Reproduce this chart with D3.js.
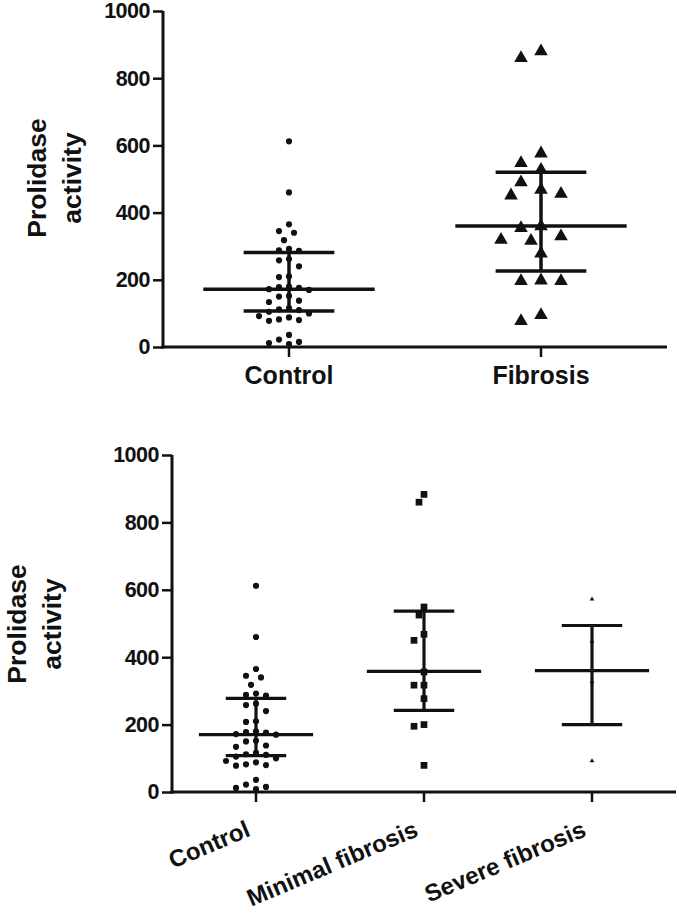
<!DOCTYPE html>
<html><head><meta charset="utf-8">
<script src="https://cdn.jsdelivr.net/npm/d3@7"></script>
<style>body{margin:0;background:#fff}svg{display:block}text{font-family:"Liberation Sans",Arial,sans-serif;font-weight:bold;fill:#111}</style>
</head><body><svg id="c" width="680" height="910"></svg>
<script>
// ---- data ----
const topCategories = ["Control", "Fibrosis"];
const bottomCategories = ["Control", "Minimal fibrosis", "Severe fibrosis"];
const yTicks = [0, 200, 400, 600, 800, 1000];
const controlValues = [612, 460, 365, 345, 340, 318, 292, 288, 286, 262, 258, 240, 210, 208, 180, 178, 176, 172, 170, 152, 150, 138, 134, 116, 112, 110, 105, 100, 92, 88, 82, 80, 78, 36, 22, 15, 12, 9];
const fibrosisValues = [883, 863, 579, 550, 530, 493, 471, 459, 454, 362, 357, 332, 322, 319, 281, 201, 199, 199, 98, 80];
const minimalValues = [883, 860, 549, 525, 468, 450, 356, 317, 317, 277, 200, 195, 79];
const severeValues = [575, 450, 365, 330, 95];
// summary lines: centre, lower, upper
const topCentre = [172, 360], topLower = [107, 226], topUpper = [281, 520];
const botCentre = [170, 358, 360], botLower = [108, 242, 200], botUpper = [278, 537, 494];

const svg = d3.select("#c");
const INK = "#111";
const FF = '"Liberation Sans",Arial,sans-serif';

function swarm(values, y, step, minDist) {
  const order = values.map((v, i) => ({v, i})).sort((a, b) => b.v - a.v);
  const placed = [], off = new Array(values.length).fill(0);
  for (const p of order) {
    const py = y(p.v);
    for (let k = 0; k < 200; k++) {
      const cand = k === 0 ? 0 : (k % 2 ? -Math.ceil(k / 2) : Math.ceil(k / 2)) * step;
      if (placed.every(q => Math.hypot(q.x - cand, q.y - py) >= minDist)) {
        off[p.i] = cand; placed.push({x: cand, y: py}); break;
      }
    }
  }
  return off;
}

function panel(cfg) {
  const g = svg.append("g");
  const x = d3.scaleBand().domain(cfg.cats).range([cfg.x0, cfg.x1]);
  const y = d3.scaleLinear().domain([0, 1000]).range([cfg.y0, cfg.y1]);
  const bw = x.bandwidth();
  // axes
  const ya = g.append("g").attr("transform", `translate(${cfg.x0},0)`)
    .call(d3.axisLeft(y).tickValues(yTicks).tickFormat(d3.format("d")).tickSize(10).tickPadding(3));
  const xa = g.append("g").attr("transform", `translate(0,${cfg.y0})`)
    .call(d3.axisBottom(x).tickSize(10).tickPadding(cfg.rot ? 6 : 9));
  [ya, xa].forEach(a => {
    a.select(".domain").attr("stroke", INK).attr("stroke-width", 3);
    a.selectAll(".tick line").attr("stroke", INK).attr("stroke-width", 2.5);
  });
  ya.select(".domain").attr("d", `M0,${cfg.y0 + 1.5}V${cfg.y1}`);
  xa.select(".domain").attr("d", `M${cfg.x0 - 1.5},0H${cfg.x1}`);
  ya.selectAll(".tick text").attr("font-size", 21.5).attr("letter-spacing", -0.5).attr("fill", INK)
    .style("font-family", FF).style("font-weight", "bold");
  const xt = xa.selectAll(".tick text").attr("font-size", cfg.rot ? 24 : 25).attr("fill", INK)
    .style("font-family", FF).style("font-weight", "bold");
  if (cfg.rot) {
    xt.attr("text-anchor", "end").attr("dy", "0.35em")
      .attr("transform", "translate(-14,21) rotate(-23)");
  }
  // y label
  const yl = g.append("text").attr("transform", `translate(${cfg.labX},${cfg.labY}) rotate(-90)`)
    .attr("text-anchor", "middle").attr("font-size", 26.5);
  yl.append("tspan").attr("x", 0).attr("dy", 0).text("Prolidase");
  yl.append("tspan").attr("x", 0).attr("dy", 35).text("activity");

  // summary bars
  cfg.cats.forEach((c, i) => {
    const cx = x(c) + bw / 2;
    const sw = cfg.barW;
    g.append("line").attr("x1", cx - bw * 0.34).attr("x2", cx + bw * 0.34)
      .attr("y1", y(cfg.centre[i])).attr("y2", y(cfg.centre[i])).attr("stroke", INK).attr("stroke-width", sw);
    g.append("line").attr("x1", cx).attr("x2", cx)
      .attr("y1", y(cfg.lower[i])).attr("y2", y(cfg.upper[i])).attr("stroke", INK).attr("stroke-width", sw);
    [cfg.lower[i], cfg.upper[i]].forEach(v => {
      g.append("line").attr("x1", cx - bw * 0.18).attr("x2", cx + bw * 0.18)
        .attr("y1", y(v)).attr("y2", y(v)).attr("stroke", INK).attr("stroke-width", sw);
    });
  });
  // points
  cfg.series.forEach((s, i) => {
    const cx = x(cfg.cats[i]) + bw / 2;
    const off = swarm(s.values, y, s.step, s.minDist);
    const sym = d3.symbol().type(s.type).size(s.size);
    g.append("g").selectAll("path").data(s.values).join("path")
      .attr("d", sym).attr("fill", INK)
      .attr("transform", (d, j) => `translate(${cx + off[j]},${y(d) + (s.type === d3.symbolTriangle ? 1 : 0)})`);
  });
}

panel({
  cats: topCategories, x0: 163, x1: 667, y0: 347, y1: 11, rot: false,
  labX: 46, labY: 178, barW: 3.5,
  centre: topCentre, lower: topLower, upper: topUpper,
  series: [
    {values: controlValues, type: d3.symbolCircle, size: 30, step: 5, minDist: 9},
    {values: fibrosisValues, type: d3.symbolTriangle, size: 80, step: 10, minDist: 16}
  ]
});
panel({
  cats: bottomCategories, x0: 172, x1: 676, y0: 792, y1: 455, rot: true,
  labX: 26, labY: 624, barW: 3.2,
  centre: botCentre, lower: botLower, upper: botUpper,
  series: [
    {values: controlValues, type: d3.symbolCircle, size: 30, step: 5, minDist: 9},
    {values: minimalValues, type: d3.symbolSquare, size: 45, step: 5, minDist: 9},
    {values: severeValues, type: d3.symbolTriangle, size: 10, step: 5, minDist: 6}
  ]
});
</script></body></html>
